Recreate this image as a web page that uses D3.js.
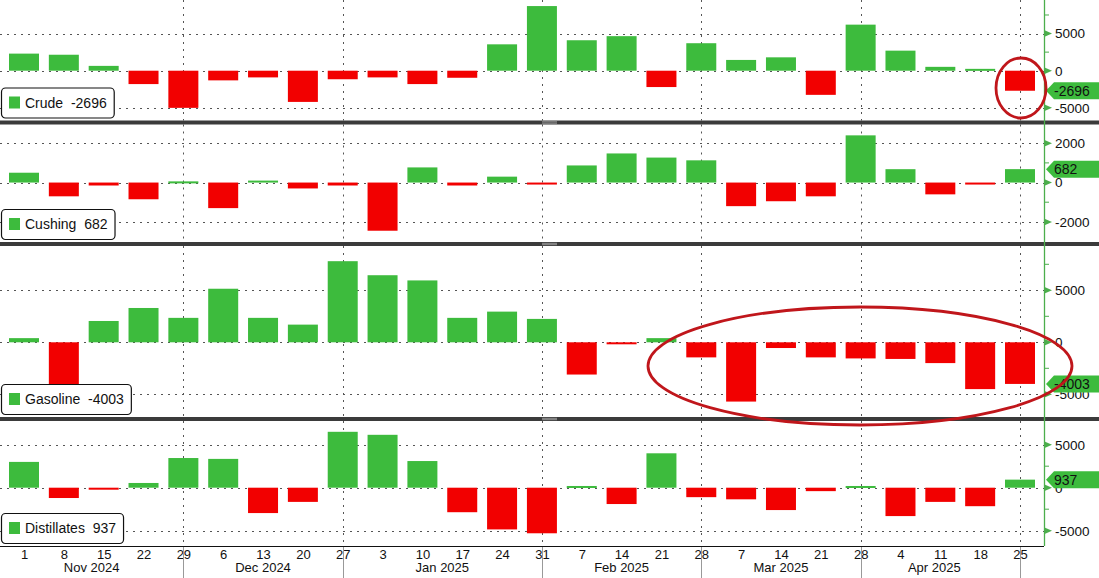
<!DOCTYPE html>
<html>
<head>
<meta charset="utf-8">
<script src="https://cdn.jsdelivr.net/npm/d3@7"></script>
<style>
  html, body { margin: 0; padding: 0; background: #fff; }
  svg { display: block; font-family: "Liberation Sans", Arial, sans-serif; }
</style>
</head>
<body>
<svg id="chart" width="1099" height="578"></svg>
<script>
// ---- data ----
const weeks = ["2024-11-01","2024-11-08","2024-11-15","2024-11-22","2024-11-29",
  "2024-12-06","2024-12-13","2024-12-20","2024-12-27",
  "2025-01-03","2025-01-10","2025-01-17","2025-01-24","2025-01-31",
  "2025-02-07","2025-02-14","2025-02-21","2025-02-28",
  "2025-03-07","2025-03-14","2025-03-21","2025-03-28",
  "2025-04-04","2025-04-11","2025-04-18","2025-04-25"];
const crude = [2300, 2150, 650, -1800, -5000, -1300, -900, -4200, -1150, -900, -1800, -950,
  3550, 8700, 4100, 4650, -2200, 3700, 1450, 1800, -3250, 6200, 2700, 520, 250, -2696];
const cushing = [500, -700, -150, -850, 60, -1300, 100, -300, -150, -2450, 770, -150,
  300, -50, 870, 1480, 1270, 1130, -1200, -950, -700, 2400, 680, -600, -80, 682];
const gasoline = [400, -4150, 2050, 3300, 2350, 5150, 2350, 1700, 7800, 6450, 5950, 2350,
  2950, 2250, -3100, -150, 400, -1450, -5700, -550, -1450, -1550, -1600, -2000, -4500, -4003];
const distillates = [3000, -1200, -50, 550, 3450, 3350, -2950, -1650, 6500, 6150, 3100, -2850,
  -4850, -5300, 200, -1900, 4000, -1100, -1350, -2600, -400, 200, -3300, -1650, -2150, 937];
const seriesNames = ["Crude", "Cushing", "Gasoline", "Distillates"];
const lastValues = [-2696, 682, -4003, 937];
const majorTicks = [[-5000, 0, 5000], [-2000, 0, 2000], [-5000, 0, 5000], [-5000, 0, 5000]];
const minorTicks = [[-2500, 2500, 7500], [-1000, 1000], [-2500, 2500, 7500], [-2500, 2500]];
const monthLabels = ["Nov 2024", "Dec 2024", "Jan 2025", "Feb 2025", "Mar 2025", "Apr 2025"];
const monthEnds = ["2024-11-29", "2024-12-27", "2025-01-31", "2025-02-28", "2025-03-28", "2025-04-25"];

// ---- layout ----
const W = 1099, H = 578;
const axisX = 1044, bottomY = 546;
const GREEN = "#3dbb3d", RED = "#f20000", AX = "#4cae4c";
const parse = d3.timeParse("%Y-%m-%d");
const dates = weeks.map(parse);
const x = d3.scaleTime().domain([dates[0], dates[dates.length - 1]]).range([24, 1020]);
const barW = 30;

const panels = [
  { top: 0, bottom: 120.5, dom: [-6702, 9517], data: crude },
  { top: 124.5, bottom: 242, dom: [-3023, 2952], data: cushing },
  { top: 246, bottom: 417, dom: [-7183, 9260], data: gasoline },
  { top: 421, bottom: bottomY, dom: [-6779, 7756], data: distillates }
];

const svg = d3.select("#chart");
svg.append("rect").attr("width", W).attr("height", H).attr("fill", "#fff");

panels.forEach((p, i) => {
  const y = d3.scaleLinear().domain(p.dom).range([p.bottom, p.top]);
  const g = svg.append("g");
  // horizontal grid
  g.selectAll("line.hg").data(majorTicks[i]).join("line")
    .attr("x1", 0).attr("x2", axisX)
    .attr("y1", d => Math.round(y(d)) + 0.5).attr("y2", d => Math.round(y(d)) + 0.5)
    .attr("stroke", "#555").attr("stroke-width", 1).attr("stroke-dasharray", "2,5");
  // vertical grid
  g.selectAll("line.vg").data(monthEnds.map(parse)).join("line")
    .attr("x1", d => Math.round(x(d)) + 0.5).attr("x2", d => Math.round(x(d)) + 0.5)
    .attr("y1", p.top).attr("y2", p.bottom)
    .attr("stroke", "#555").attr("stroke-width", 1).attr("stroke-dasharray", "2,5");
  // bars
  g.selectAll("rect.bar").data(p.data).join("rect")
    .attr("x", (d, j) => x(dates[j]) - barW / 2)
    .attr("width", barW)
    .attr("y", d => y(Math.max(0, d)))
    .attr("height", d => Math.max(2, Math.abs(y(d) - y(0))))
    .attr("fill", d => d >= 0 ? GREEN : RED);
  // right axis ticks
  const ax = svg.append("g");
  ax.selectAll("path.tri").data(majorTicks[i]).join("path")
    .attr("d", d => `M${axisX},${y(d) - 3.5}L${axisX + 8},${y(d)}L${axisX},${y(d) + 3.5}Z`)
    .attr("fill", AX);
  ax.selectAll("line.mn").data(minorTicks[i].filter(v => y(v) > p.top + 2 && y(v) < p.bottom - 2)).join("line")
    .attr("x1", axisX).attr("x2", axisX + 5)
    .attr("y1", d => y(d)).attr("y2", d => y(d))
    .attr("stroke", AX).attr("stroke-width", 1);
  ax.selectAll("text.tl").data(majorTicks[i]).join("text")
    .attr("x", axisX + 11).attr("y", d => y(d))
    .attr("dy", "0.36em").attr("font-size", 13.5).attr("fill", "#111")
    .text(d => d < 0 ? "-" + Math.abs(d) : d);
  // value tag
  const ty = y(lastValues[i]);
  const tag = svg.append("g");
  tag.append("path")
    .attr("d", `M${axisX + 2},${ty}L${axisX + 10},${ty - 8.5}L${W},${ty - 8.5}L${W},${ty + 8.5}L${axisX + 10},${ty + 8.5}Z`)
    .attr("fill", GREEN);
  tag.append("text").attr("x", axisX + 10).attr("y", ty).attr("dy", "0.36em")
    .attr("font-size", 14).attr("fill", "#111").text(lastValues[i]);
  // legend
  const lg = svg.append("g");
  const boxH = 30;
  const by = p.bottom - boxH - 3;
  const txt = lg.append("text").attr("x", 25).attr("y", by + boxH / 2).attr("dy", "0.36em")
    .attr("font-size", 14).attr("fill", "#111")
    .text(seriesNames[i] + "  " + lastValues[i]).attr("xml:space", "preserve");
  const tw = txt.node().getComputedTextLength();
  lg.insert("rect", "text").attr("x", 1.5).attr("y", by + 0.5).attr("width", 25 + tw + 6)
    .attr("height", boxH).attr("rx", 4).attr("fill", "#fff").attr("stroke", "#111").attr("stroke-width", 1.2);
  lg.append("rect").attr("x", 9).attr("y", by + boxH / 2 - 6).attr("width", 11).attr("height", 12).attr("fill", GREEN);
});

// dividers
[[120.5, 124.5], [242, 246], [417, 421]].forEach(([a, b]) => {
  svg.append("rect").attr("x", 0).attr("y", a).attr("width", axisX + 55).attr("height", b - a).attr("fill", "#3b3b3b");
  svg.append("line").attr("x1", 542).attr("x2", 557).attr("y1", a + 1.3).attr("y2", a + 1.3).attr("stroke", "#aaa").attr("stroke-width", 0.8);
  svg.append("line").attr("x1", 542).attr("x2", 557).attr("y1", a + 2.7).attr("y2", a + 2.7).attr("stroke", "#aaa").attr("stroke-width", 0.8);
});

// right axis line
svg.append("line").attr("x1", axisX + 0.5).attr("x2", axisX + 0.5).attr("y1", 0).attr("y2", bottomY)
  .attr("stroke", AX).attr("stroke-width", 1.3);

// bottom axis
svg.append("line").attr("x1", 0).attr("x2", axisX).attr("y1", bottomY + 0.5).attr("y2", bottomY + 0.5)
  .attr("stroke", "#111").attr("stroke-width", 1.2);
const xAxis = d3.axisBottom(x).tickValues(dates).tickFormat(d3.timeFormat("%-d")).tickSize(0).tickPadding(4);
const xg = svg.append("g").attr("transform", `translate(0,${bottomY})`).call(xAxis);
xg.select(".domain").remove();
xg.selectAll("text").attr("font-size", 13).attr("fill", "#111").attr("font-family", "Liberation Sans, Arial, sans-serif");

const seps = monthEnds.map(parse);
svg.selectAll("line.sep").data(seps).join("line")
  .attr("x1", d => Math.round(x(d)) + 0.5).attr("x2", d => Math.round(x(d)) + 0.5)
  .attr("y1", bottomY + 1).attr("y2", H)
  .attr("stroke", "#999").attr("stroke-width", 1);
const bounds = [0].concat(seps.map(d => x(d)));
svg.selectAll("text.month").data(monthLabels).join("text")
  .attr("x", (d, i) => (bounds[i] + bounds[i + 1]) / 2 - (i === 5 ? 6 : 0))
  .attr("y", 572).attr("text-anchor", "middle").attr("font-size", 13).attr("fill", "#111")
  .text(d => d);

// annotations
svg.append("ellipse").attr("cx", 1021).attr("cy", 88).attr("rx", 25).attr("ry", 30)
  .attr("fill", "none").attr("stroke", "#c0161b").attr("stroke-width", 2.8);
svg.append("ellipse").attr("cx", 860).attr("cy", 366).attr("rx", 212).attr("ry", 59)
  .attr("fill", "none").attr("stroke", "#c0161b").attr("stroke-width", 2.8);
</script>
</body>
</html>
